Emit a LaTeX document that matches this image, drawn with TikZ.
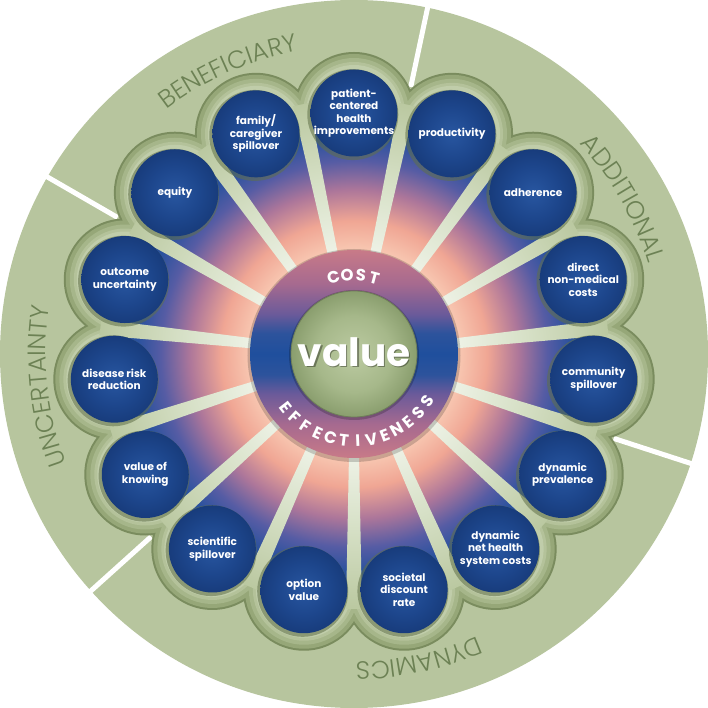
\documentclass[tikz,border=0pt]{standalone}
\usepackage{fontspec}
\setmainfont{Poppins}
\IfFontExistsTF{Poppins Light}{\newfontfamily\lightfont{Poppins Light}}{\newfontfamily\lightfont{Poppins}}
\usetikzlibrary{decorations.text}

\definecolor{sage}{RGB}{183,197,158}
\definecolor{rimdark}{RGB}{122,140,94}
\definecolor{flw1}{RGB}{150,167,120}
\definecolor{flw2}{RGB}{166,182,138}
\definecolor{flw3}{RGB}{180,194,154}
\definecolor{flw4}{RGB}{192,205,170}
\definecolor{labgreen}{RGB}{108,129,84}
\definecolor{bg0}{RGB}{250,212,192}
\definecolor{bg1}{RGB}{248,200,178}
\definecolor{bg2}{RGB}{240,166,148}
\definecolor{bg3}{RGB}{172,118,154}
\definecolor{bg4}{RGB}{86,92,164}
\definecolor{bg5}{RGB}{42,82,158}
\definecolor{bg6}{RGB}{36,76,150}
\definecolor{sp0}{RGB}{238,242,230}
\definecolor{sp1}{RGB}{214,224,198}
\definecolor{sp2}{RGB}{186,200,160}
\definecolor{rg1}{RGB}{200,122,136}
\definecolor{rg2}{RGB}{167,106,143}
\definecolor{rg3}{RGB}{106,90,154}
\definecolor{rg4}{RGB}{45,83,156}
\definecolor{rg5}{RGB}{31,79,157}
\definecolor{bl0}{RGB}{40,86,160}
\definecolor{bl1}{RGB}{29,70,140}
\definecolor{bl2}{RGB}{24,60,124}
\definecolor{gi0}{RGB}{188,203,162}
\definecolor{gi1}{RGB}{166,184,138}
\definecolor{gi2}{RGB}{138,158,110}
\definecolor{shd}{RGB}{96,112,72}

\pgfdeclareradialshading{bgshade}{\pgfpointorigin}{color(0bp)=(bg0); color(10.9bp)=(bg1); color(14bp)=(bg2); color(17.3bp)=(bg3); color(20.3bp)=(bg4); color(22.8bp)=(bg5); color(25bp)=(bg6); color(50bp)=(bg6)}
\pgfdeclareradialshading{spokeshade}{\pgfpointorigin}{color(0bp)=(sp0); color(10bp)=(sp0); color(17bp)=(sp1); color(25bp)=(sp2); color(50bp)=(sp2)}
\pgfdeclareverticalshading{ringshade}{100bp}{color(0bp)=(rg1); color(25bp)=(rg1); color(33bp)=(rg2); color(40.5bp)=(rg3); color(45bp)=(rg4); color(50bp)=(rg5); color(55bp)=(rg4); color(59.5bp)=(rg3); color(67bp)=(rg2); color(75bp)=(rg1); color(100bp)=(rg1)}
\pgfdeclareradialshading{blueshade}{\pgfpointorigin}{color(0bp)=(bl0); color(15bp)=(bl1); color(25bp)=(bl2); color(50bp)=(bl2)}
\pgfdeclareradialshading{greenshade}{\pgfpointorigin}{color(0bp)=(gi0); color(15bp)=(gi1); color(25bp)=(gi2); color(50bp)=(gi2)}

\newcommand\labfont{\lightfont\fontsize{25}{25}\selectfont}

\tikzset{
  bluec/.style={circle, minimum size=87, inner sep=0, shading=blueshade},
  lbl/.style={text=white, align=center, inner sep=0, font=\fontsize{10.5}{12.5}\selectfont\bfseries},
  ringletter/.style={text=white, inner sep=0, font=\fontsize{16.5}{16.5}\selectfont\bfseries},
  outerlabel/.style={decorate, decoration={text along path, text align=center, text color=labgreen}}
}

\begin{document}
\begin{tikzpicture}[x=1pt,y=1pt]
\useasboundingbox (-354,-354) rectangle (354,354);
% outer disk
\fill[sage] (0,0) circle (354);
% sector separators
\foreach \a in {78,150,222,342} \draw[white, line width=5] (\a:273) -- (\a:356);
% flower layers
\foreach \r/\c in {61/rimdark,59/flw1,55/flw2,51/flw3,48/flw4}{
  \fill[\c] \foreach \a in {90,66,...,-246} {(\a:241) circle (\r)};
}
% inner gradient
\shade[shading=bgshade] (0,0) circle (238);
% spokes
\begin{scope}
  \clip \foreach \a in {102,78,...,-234} {(\a-2.862:100.125) -- (\a-1.797:255.125) -- (\a+1.797:255.125) -- (\a+2.862:100.125) -- cycle};
  \shade[shading=spokeshade] (0,0) circle (256);
\end{scope}
% centre ring
\fill[black, opacity=0.18] (0,-1.5) circle (106.5);
\shade[shading=ringshade] (0,0) circle (104);
\fill[black, opacity=0.2] (0,-1) circle (65);
\shade[shading=greenshade] (0,0) circle (63);
\draw[gi2!80!black, line width=0.8] (0,0) circle (63);
\node[text=black, opacity=0.35, font=\fontsize{39}{39}\selectfont\bfseries, inner sep=0] (valueshadow) at (1.5,0.5) {value};
\node[text=white, font=\fontsize{39}{39}\selectfont\bfseries, inner sep=0] (value) at (0,2) {value};
% COST
\foreach \L [count=\i] in {C,O,S,T}{
  \pgfmathsetmacro\ang{115-10*\i}
  \node[ringletter, rotate=\ang-90] (cost\i) at (\ang:79) {\L};
}
% EFFECTIVENESS
\foreach \L [count=\i] in {E,F,F,E,C,T,I,V,E,N,E,S,S}{
  \pgfmathsetmacro\ang{-142+(\i-1)*9.08}
  \node[ringletter, rotate=\ang+90] (eff\i) at (\ang:87) {\L};
}
% blue circles
\foreach \a/\nm/\txt in {
  90/pch/{patient-\\centered\\health\\improvements},
  66/prod/{productivity},
  42/adh/{adherence},
  18/dnm/{direct\\non-medical\\costs},
  -6/coms/{community\\spillover},
  -30/dynp/{dynamic\\prevalence},
  -54/dnh/{dynamic\\net health\\system costs},
  -78/sdr/{societal\\discount\\rate},
  -102/opt/{option\\value},
  -126/scis/{scientific\\spillover},
  -150/vok/{value of\\knowing},
  -174/drr/{disease risk\\reduction},
  162/ouc/{outcome\\uncertainty},
  138/equ/{equity},
  114/fam/{family/\\caregiver\\spillover}}{
  \fill[shd, opacity=0.55, shift={(-1.2,-1.6)}] (\a:241) circle (45.5);
  \node[bluec] (\nm) at (\a:241) {};
  \node[lbl] (\nm-t) at (\nm) {\txt};
}
% outer labels
\path[outerlabel, decoration={text={|\labfont|BENEFICIARY}}] (154:308) arc[start angle=154, end angle=74, radius=308];
\path[outerlabel, decoration={text={|\labfont|ADDITIONAL}}] (70:308) arc[start angle=70, end angle=-10, radius=308];
\path[outerlabel, decoration={text={|\labfont|DYNAMICS}}] (-38:308) arc[start angle=-38, end angle=-118, radius=308];
\path[outerlabel, decoration={text={|\labfont|UNCERTAINTY}}] (226:308) arc[start angle=226, end angle=146, radius=308];
\end{tikzpicture}
\end{document}
